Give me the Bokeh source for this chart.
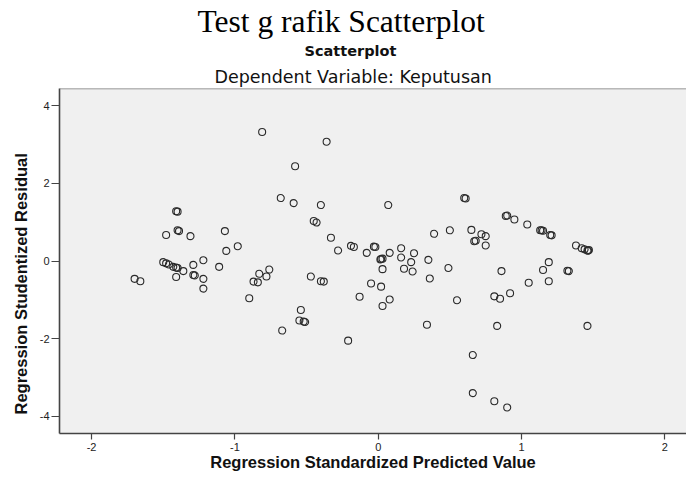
from bokeh.plotting import figure
from bokeh.models import Title, FixedTicker, Span, Range1d
from bokeh.embed import file_html
from bokeh.resources import INLINE

# Regression standardized predicted value (x) and studentized residual (y)
x_pred = [-1.41, -1.40, -1.48, -1.40, -1.39, -1.31, -1.07, -1.06, -0.98,
          -1.50, -1.48, -1.46, -1.43, -1.41, -1.40, -1.36, -1.29, -1.22,
          -1.29, -1.28, -1.41, -1.22, -1.11, -1.70, -1.66, -1.22, -0.90,
          -0.87, -0.84, -0.83, -0.78, -0.76, -0.81, -0.36, -0.58, -0.68,
          -0.59, -0.40, 0.07, 0.60, 0.61, -0.45, -0.43, -0.33, -0.28,
          -0.19, -0.17, -0.08, -0.03, -0.02, 0.02, 0.03, 0.015, 0.08,
          0.16, 0.16, 0.25, 0.23, 0.35, 0.39, 0.50, 0.65, 0.67, 0.68,
          0.03, 0.18, 0.24, 0.49, 0.36, -0.05, 0.02, -0.47, -0.40, -0.38,
          -0.54, -0.55, -0.52, -0.51, -0.67, -0.21, -0.13, 0.08, 0.03,
          0.34, 0.55, 0.66, 0.66, 0.89, 0.90, 0.95, 1.04, 1.13, 1.14,
          1.15, 1.20, 1.21, 0.72, 0.75, 0.75, 1.38, 1.42, 1.44, 1.46,
          1.47, 1.465, 1.19, 1.15, 0.86, 1.05, 1.19, 1.32, 1.33, 0.81,
          0.85, 0.92, 0.83, 1.46, 0.81, 0.90]
y_resid = [1.28, 1.27, 0.67, 0.79, 0.77, 0.64, 0.77, 0.26, 0.38,
           -0.03, -0.06, -0.09, -0.15, -0.17, -0.18, -0.26, -0.10, 0.02,
           -0.36, -0.37, -0.41, -0.46, -0.15, -0.46, -0.52, -0.71, -0.96,
           -0.53, -0.55, -0.33, -0.40, -0.22, 3.32, 3.07, 2.44, 1.62,
           1.49, 1.44, 1.44, 1.62, 1.61, 1.03, 0.99, 0.60, 0.27,
           0.39, 0.36, 0.21, 0.37, 0.36, 0.05, 0.06, 0.04, 0.21,
           0.33, 0.09, 0.20, -0.03, 0.03, 0.70, 0.79, 0.80, 0.51, 0.52,
           -0.21, -0.20, -0.27, -0.18, -0.45, -0.58, -0.66, -0.40, -0.52, -0.53,
           -1.26, -1.53, -1.56, -1.57, -1.79, -2.05, -0.92, -0.99, -1.16,
           -1.64, -1.01, -2.42, -3.40, 1.16, 1.17, 1.07, 0.94, 0.79, 0.79,
           0.78, 0.67, 0.66, 0.69, 0.64, 0.40, 0.40, 0.33, 0.30, 0.27,
           0.28, 0.265, -0.03, -0.23, -0.26, -0.56, -0.52, -0.25, -0.26, -0.91,
           -0.97, -0.83, -1.67, -1.67, -3.61, -3.77]

x_ticks = [-2, -1, 0, 1, 2]
y_ticks = [-4, -2, 0, 2, 4]

main_title = "Test g rafik Scatterplot"
chart_title = "Scatterplot"
sub_title = "Dependent Variable: Keputusan"
x_label = "Regression Standardized Predicted Value"
y_label = "Regression Studentized Residual"

X0, X1 = -2.224, 2.151
Y0, Y1 = -4.44, 4.44

p = figure(width=686, height=473, output_backend="svg", toolbar_location=None,
           x_range=Range1d(X0, X1), y_range=Range1d(Y0, Y1),
           min_border_left=59, min_border_right=0, min_border_top=88,
           min_border_bottom=0)

p.background_fill_color = "#F0F0F0"
p.border_fill_color = "white"
p.outline_line_color = None
p.xgrid.visible = False
p.ygrid.visible = False

p.add_layout(Title(text=sub_title, align="left", offset=155,
                   text_font="DejaVu Sans", text_font_size="17.5px",
                   text_font_style="normal", text_color="#111111",
                   standoff=4), "above")
p.add_layout(Title(text=chart_title, align="left", offset=245,
                   text_font="DejaVu Sans", text_font_size="14.5px",
                   text_font_style="bold", text_color="#111111",
                   standoff=8), "above")
p.add_layout(Title(text=main_title, align="left", offset=138,
                   text_font="Liberation Serif", text_font_size="31.5px",
                   text_font_style="normal", text_color="#000000",
                   standoff=-4), "above")
p.add_layout(Title(text=y_label, align="left", offset=19,
                   text_font="Liberation Sans", text_font_size="16.5px",
                   text_font_style="bold", text_color="#111111",
                   standoff=13), "left")

p.add_layout(Span(location=Y1, dimension="width", line_color="#7a7a7a",
                  line_width=1.5))

for ax in (p.xaxis[0], p.yaxis[0]):
    ax.axis_line_color = "#444444"
    ax.axis_line_width = 1.6
    ax.major_tick_line_color = "#444444"
    ax.major_tick_line_width = 1.2
    ax.minor_tick_line_color = None
    ax.major_tick_in = 0
    ax.major_label_text_font = "Liberation Sans"
    ax.major_label_text_font_size = "11px"
    ax.major_label_text_color = "#222222"

p.xaxis.ticker = FixedTicker(ticks=x_ticks)
p.yaxis.ticker = FixedTicker(ticks=y_ticks)
p.xaxis.major_label_overrides = {t: str(t) for t in x_ticks}
p.yaxis.major_label_overrides = {t: str(t) for t in y_ticks}
p.xaxis.major_tick_out = 6
p.yaxis.major_tick_out = 8
p.xaxis.major_label_standoff = 3
p.yaxis.major_label_standoff = 2

p.xaxis.axis_label = x_label
p.xaxis.axis_label_standoff = -1
p.xaxis.axis_label_text_font = "Liberation Sans"
p.xaxis.axis_label_text_font_size = "16.5px"
p.xaxis.axis_label_text_font_style = "bold"
p.xaxis.axis_label_text_color = "#111111"

p.scatter(x=x_pred, y=y_resid, marker="circle", size=7, fill_color=None,
          line_color="#2a2a2a", line_width=1.1)

open("out.html", "w").write(file_html(p, INLINE))
